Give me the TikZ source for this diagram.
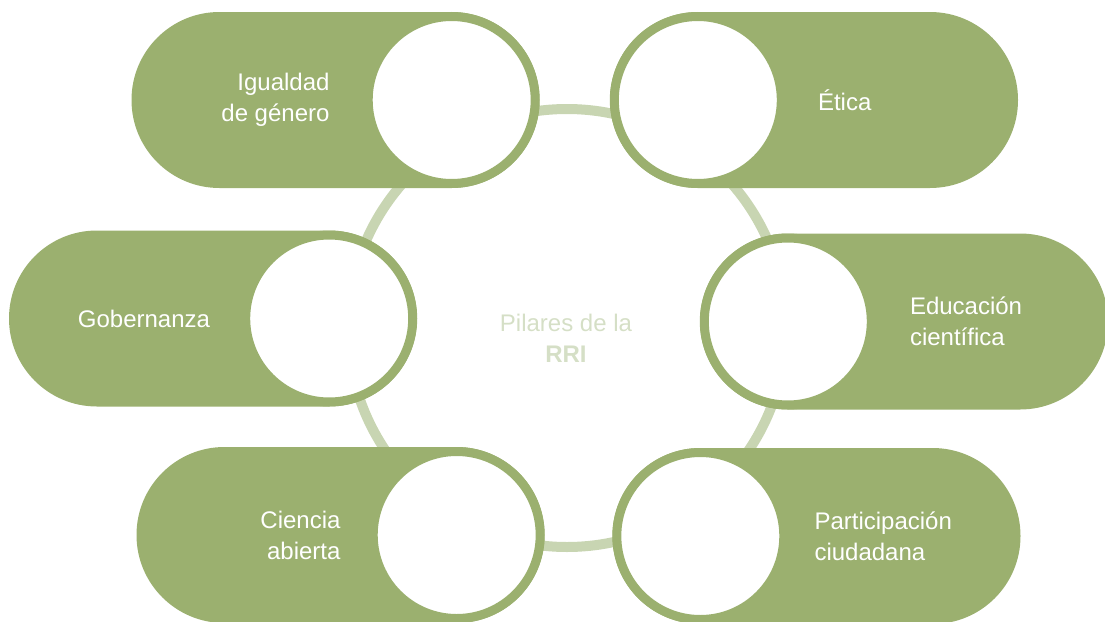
\documentclass[tikz,border=0pt]{standalone}
\usepackage{fontspec}
\setmainfont{Liberation Sans}
\usetikzlibrary{positioning}
\definecolor{pilar}{HTML}{9BB06F}
\definecolor{aro}{HTML}{C8D5B2}
\definecolor{titulo}{HTML}{D5DFC6}
\tikzset{
  pill/.style={fill=pilar, minimum width=408pt, minimum height=176pt, rounded corners=87.9pt, inner sep=0pt},
  hueco/.style={circle, fill=white, draw=pilar, line width=9pt, minimum size=167pt, inner sep=0pt},
  etiq/.style={text=white, font=\fontsize{24}{31}\selectfont, inner sep=0pt},
}

\begin{document}
\begin{tikzpicture}[x=1pt,y=-1pt]
	\useasboundingbox (0,0) rectangle (1105,621);
	\clip (0,0) rectangle (1105,621);
	\node[circle, draw=aro, line width=10pt, minimum size=438pt] (anillo) at (567,328) {};
	\node[text=titulo, font=\fontsize{24}{31}\selectfont, align=center, inner sep=0pt] (pilares) at (566,338) {Pilares de la\\\textbf{RRI}};

	\node[pill] (igualdad) at (335.5,100) {};
	\node[hueco] (igualdadc) at ([xshift=-88pt]igualdad.east) {};
	\node[etiq, align=right, left=34pt of igualdadc] (igualdadt) {Igualdad\\de género};

	\node[pill] (etica) at (814,100) {};
	\node[hueco] (eticac) at ([xshift=88pt]etica.west) {};
	\node[etiq, align=left, right=32pt of eticac] (eticat) {Ética};

	\node[pill] (gobernanza) at (213,318.5) {};
	\node[hueco] (gobernanzac) at ([xshift=-88pt]gobernanza.east) {};
	\node[etiq, align=right, left=31pt of gobernanzac] (gobernanzat) {Gobernanza};

	\node[pill] (educacion) at (904,321.5) {};
	\node[hueco] (educacionc) at ([xshift=88pt]educacion.west) {};
	\node[etiq, align=left, right=34pt of educacionc] (educaciont) {Educación\\científica};

	\node[pill] (ciencia) at (340.5,535) {};
	\node[hueco] (cienciac) at ([xshift=-88pt]ciencia.east) {};
	\node[etiq, align=right, left=28pt of cienciac] (cienciat) {Ciencia\\abierta};

	\node[pill] (participacion) at (816.5,536) {};
	\node[hueco] (participacionc) at ([xshift=88pt]participacion.west) {};
	\node[etiq, align=left, right=26pt of participacionc] (participaciont) {Participación\\ciudadana};
\end{tikzpicture}
\end{document}
